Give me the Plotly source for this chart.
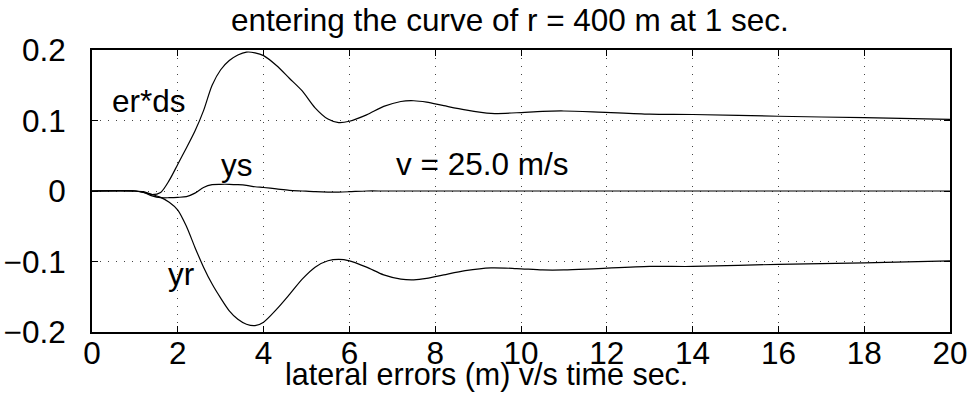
import plotly.graph_objects as go

# Simulation time (s)
t = [0, 1.0, 1.2, 1.4, 1.6, 1.8, 2.0, 2.2, 2.4, 2.6, 2.8, 3.0, 3.2, 3.4, 3.6,
     3.8, 4.0, 4.3, 4.6, 4.9, 5.2, 5.5, 5.75, 6.0, 6.4, 6.8, 7.2, 7.5, 7.8,
     8.2, 8.7, 9.3, 9.9, 10.5, 11.0, 11.8, 13.0, 14.0, 16.0, 18.0, 20.0]

# Lateral errors (m)
er_ds = [0, 0, -0.002, -0.005, -0.002, 0.015, 0.038, 0.061, 0.085, 0.114,
         0.15, 0.172, 0.185, 0.193, 0.197, 0.196, 0.192, 0.178, 0.16, 0.142,
         0.118, 0.102, 0.097, 0.099, 0.108, 0.12, 0.127, 0.128, 0.126, 0.121,
         0.115, 0.110, 0.111, 0.113, 0.1135, 0.112, 0.109, 0.1085, 0.106,
         0.104, 0.1017]

ys = [0, 0, -0.002, -0.007, -0.0095, -0.0095, -0.009, -0.008, -0.003, 0.005,
      0.009, 0.0095, 0.0095, 0.009, 0.008, 0.006, 0.005, 0.003, 0.001, 0.0,
      -0.001, -0.0015, -0.0015, -0.001, 0, 0, 0, 0, 0, 0, 0, 0, 0, 0, 0, 0,
      0, 0, 0, 0, 0]

yr = [0, 0, -0.001, -0.005, -0.009, -0.016, -0.027, -0.05, -0.08, -0.108,
      -0.132, -0.152, -0.170, -0.182, -0.189, -0.191, -0.186, -0.168, -0.147,
      -0.125, -0.108, -0.099, -0.097, -0.099, -0.108, -0.119, -0.125, -0.126,
      -0.124, -0.119, -0.113, -0.109, -0.110, -0.112, -0.112, -0.110, -0.107,
      -0.107, -0.104, -0.102, -0.099]

x_ticks = list(range(0, 21, 2))
y_ticks = [-0.2, -0.1, 0, 0.1, 0.2]
y_tick_text = ["\u22120.2", "\u22120.1", "0", "0.1", "0.2"]

FONT = "Liberation Sans, Arial, Helvetica, sans-serif"
FS = 31.5

fig = go.Figure()
for series in (er_ds, ys, yr):
    fig.add_trace(go.Scatter(
        x=t, y=series, mode="lines",
        line=dict(color="black", width=1.2, shape="spline", smoothing=0.8),
        showlegend=False, hoverinfo="skip",
    ))

axis_common = dict(
    showline=True, linecolor="black", linewidth=1.8, mirror="ticks",
    ticks="inside", ticklen=6, tickcolor="black", tickwidth=1,
    showgrid=True, gridcolor="#444444", gridwidth=1, griddash="1px,7px",
    zeroline=False, automargin=False,
    tickfont=dict(family=FONT, size=FS, color="black"),
)

fig.update_xaxes(range=[0, 20], tickvals=x_ticks, ticklabelstandoff=-8,
                 **axis_common)
fig.update_yaxes(range=[-0.2, 0.2], tickvals=y_ticks, ticktext=y_tick_text,
                 ticklabelstandoff=18, **axis_common)

labels = [
    ("er*ds", 1.33, 0.127),
    ("ys", 3.38, 0.037),
    ("v = 25.0 m/s", 9.1, 0.038),
    ("yr", 2.08, -0.118),
]
annotations = [
    dict(text=txt, x=x, y=y, xref="x", yref="y", showarrow=False,
         font=dict(family=FONT, size=FS, color="black"))
    for txt, x, y in labels
]
annotations.append(dict(
    text="entering the curve of r = 400 m at 1 sec.", x=0.487, y=1.106,
    xref="paper", yref="paper", xanchor="center", yanchor="middle",
    showarrow=False, font=dict(family=FONT, size=FS, color="black")))
annotations.append(dict(
    text="lateral errors (m) v/s time sec.", x=0.46, y=-0.152,
    xref="paper", yref="paper", xanchor="center", yanchor="middle",
    borderpad=0, showarrow=False,
    font=dict(family=FONT, size=30.5, color="black")))

fig.update_layout(
    width=977, height=393,
    margin=dict(l=92, r=27, t=50, b=61),
    paper_bgcolor="white", plot_bgcolor="white",
    annotations=annotations,
)

fig.write_html("out.html")
